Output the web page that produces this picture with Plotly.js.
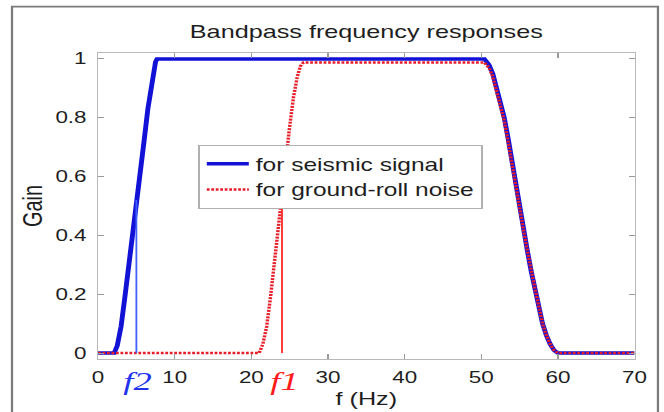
<!DOCTYPE html>
<html><head><meta charset="utf-8">
<script src="https://cdn.plot.ly/plotly-3.0.1.min.js"></script>
<style>
html,body{margin:0;padding:0;background:#fff;overflow:hidden;width:664px;height:412px;}
#wrap{width:664px;height:412px;overflow:hidden;position:relative;}
#chart{width:474px;height:412px;transform:scaleX(1.4008);transform-origin:0 0;}
</style></head><body><div id="wrap"><div id="chart"></div></div>
<script>
// Values
const freqSignal = [0, 2.1, 2.5, 3.0, 3.5, 4.0, 4.5, 5.0, 5.5, 6.0, 6.5, 7.0, 7.3, 7.5, 7.7,
  50.4, 51.0, 51.5, 52.0, 52.5, 53.0, 53.5, 54.0, 54.5, 55.0, 55.5, 56.0, 56.5, 57.0, 57.5, 58.0, 58.5, 59.0, 59.5, 60.0, 70];
const gainSignal = [0, 0, 0.025, 0.09, 0.19, 0.29, 0.39, 0.5, 0.61, 0.72, 0.83, 0.92, 0.965, 0.99, 1,
  1, 0.98, 0.95, 0.9, 0.85, 0.8, 0.73, 0.65, 0.57, 0.5, 0.43, 0.35, 0.28, 0.22, 0.16, 0.1, 0.06, 0.03, 0.01, 0, 0];

const freqNoise = [0, 21.0, 21.5, 22.0, 22.5, 23.0, 23.5, 24.0, 24.5, 25.0, 25.5, 26.0, 26.4, 26.8,
  50.4, 51.0, 51.5, 52.0, 52.5, 53.0, 53.5, 54.0, 54.5, 55.0, 55.5, 56.0, 56.5, 57.0, 57.5, 58.0, 58.5, 59.0, 59.5, 60.0, 70];
const gainNoise = [0, 0, 0.03, 0.09, 0.19, 0.31, 0.43, 0.54, 0.66, 0.77, 0.87, 0.94, 0.975, 0.988,
  0.988, 0.97, 0.94, 0.89, 0.84, 0.79, 0.72, 0.64, 0.56, 0.49, 0.42, 0.35, 0.28, 0.22, 0.16, 0.1, 0.06, 0.03, 0.01, 0, 0];

const f2LineX = [5, 5];
const f2LineY = [0, 0.52];
const f1LineX = [24, 24];
const f1LineY = [0, 0.56];

const seriesNames = ['for seismic signal', 'for ground-roll noise'];
const xTickVals = [0, 10, 20, 30, 40, 50, 60, 70];
const xTickText = ['0', '10', '20', '30', '40', '50', '60', '70'];
const yTickVals = [0, 0.2, 0.4, 0.6, 0.8, 1];
const yTickText = ['0', '0.2', '0.4', '0.6', '0.8', '1'];
const markerLabels = ['f2', 'f1'];
const markerLabelX = [5.1, 24.3];

const traces = [
  {x: freqSignal, y: gainSignal, name: seriesNames[0], mode: 'lines',
   line: {color: '#1212d6', width: 3.5}},
  {x: freqNoise, y: gainNoise, name: seriesNames[1], mode: 'lines',
   line: {color: '#e61e2a', width: 2.5, dash: '2px,1.2px'}},
  {x: f2LineX, y: f2LineY, mode: 'lines', showlegend: false, hoverinfo: 'skip',
   line: {color: '#4060ff', width: 1.3}},
  {x: f1LineX, y: f1LineY, mode: 'lines', showlegend: false, hoverinfo: 'skip',
   line: {color: '#ff2a2a', width: 1.3}}
];

const axisCommon = {
  ticks: 'inside', tickcolor: '#9a9a9a', showline: true, linecolor: '#b8b8b8', linewidth: 1,
  mirror: 'ticks', showgrid: false, zeroline: false, tickfont: {size: 16, color: '#1e1e1e'}
};

const layout = {
  width: 474, height: 412,
  margin: {l: 70, r: 21, t: 53, b: 52.5, pad: 0},
  paper_bgcolor: '#ffffff', plot_bgcolor: '#ffffff',
  font: {family: 'Liberation Sans, Arial, Helvetica, sans-serif', color: '#1e1e1e', size: 16},
  title: {text: 'Bandpass frequency responses', font: {size: 18, color: '#1e1e1e'},
          x: 0.5, xref: 'paper', xanchor: 'center', y: 1 - 32 / 412, yref: 'container', yanchor: 'middle'},
  xaxis: Object.assign({}, axisCommon, {
    range: [0, 70], tickvals: xTickVals, ticktext: xTickText, ticklen: 5, ticklabelstandoff: 4,
    title: {text: 'f (Hz)', font: {size: 18}, standoff: 7}
  }),
  yaxis: Object.assign({}, axisCommon, {
    range: [-0.02, 1.02], tickvals: yTickVals, ticktext: yTickText, ticklen: 4, ticklabelstandoff: 4,
    title: {text: 'Gain', font: {size: 20}, standoff: 3}
  }),
  legend: {x: 0.187, y: 0.7, xanchor: 'left', yanchor: 'top', bgcolor: '#ffffff',
           bordercolor: '#b0b0b0', borderwidth: 1, font: {size: 17.5, color: '#1e1e1e'}},
  shapes: [
    {type: 'rect', xref: 'paper', yref: 'paper', x0: -0.1604, x1: 1.0436, y0: -0.35, y1: 1.1517,
     line: {color: '#7a7a7a', width: 1.6}, layer: 'above'}
  ],
  annotations: [
    {x: markerLabelX[0], xref: 'x', y: -0.0724, yref: 'paper', text: '<i>' + markerLabels[0] + '</i>',
     showarrow: false, xanchor: 'center', yanchor: 'middle',
     font: {family: 'Liberation Serif, Times New Roman, serif', size: 26, color: '#2233ee'}},
    {x: markerLabelX[1], xref: 'x', y: -0.0724, yref: 'paper', text: '<i>' + markerLabels[1] + '</i>',
     showarrow: false, xanchor: 'center', yanchor: 'middle',
     font: {family: 'Liberation Serif, Times New Roman, serif', size: 26, color: '#ff1a1a'}}
  ],
  showlegend: true
};

Plotly.newPlot('chart', traces, layout, {displayModeBar: false, staticPlot: true});
</script>
</body></html>
